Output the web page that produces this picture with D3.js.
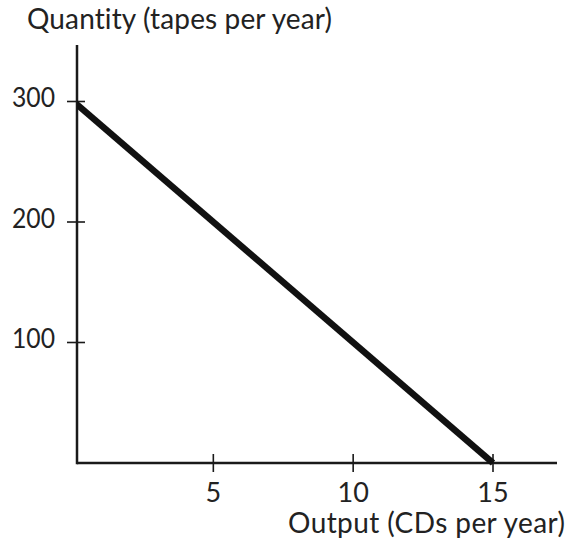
<!DOCTYPE html>
<html><head><meta charset="utf-8">
<script src="https://cdn.jsdelivr.net/npm/d3@7"></script>
<style>body{margin:0;background:#fff}svg{display:block}text{font-family:Lato,"Noto Sans",sans-serif;fill:#222;font-variant-ligatures:none;font-feature-settings:"liga" 0,"clig" 0}</style>
</head><body>
<svg id="c" width="569" height="546"></svg>
<script>
const xTicks = [5, 10, 15];
const yTicks = [100, 200, 300];
const lineX = [0, 15];
const lineY = [300, 0];
const yTitle = "Quantity (tapes per year)";
const xTitle = "Output (CDs per year)";

const svg = d3.select("#c");
const x = d3.scaleLinear().domain([0, 15]).range([73.5, 493]);
const y = d3.scaleLinear().domain([0, 300]).range([463, 101.5]);
const axX = 77, axTop = 45, axRight = 557;

// axes
svg.append("line").attr("x1", axX).attr("x2", axX).attr("y1", axTop).attr("y2", y(0)+1.2)
  .attr("stroke", "#1a1a1a").attr("stroke-width", 2.5);
svg.append("line").attr("x1", axX).attr("x2", axRight).attr("y1", y(0)).attr("y2", y(0))
  .attr("stroke", "#1a1a1a").attr("stroke-width", 2.5);

// y ticks
svg.selectAll(".yt").data(yTicks).enter().append("line")
  .attr("x1", axX-10).attr("x2", axX+8).attr("y1", d=>y(d)).attr("y2", d=>y(d))
  .attr("stroke", "#1a1a1a").attr("stroke-width", 1.6);
svg.selectAll(".yl").data(yTicks).enter().append("text")
  .attr("x", 55).attr("y", d=>y(d)+5.5).attr("text-anchor", "end")
  .attr("font-size", 27).attr("textLength", 43).attr("lengthAdjust", "spacingAndGlyphs").text(d=>d);

// x ticks
svg.selectAll(".xt").data(xTicks).enter().append("line")
  .attr("x1", d=>x(d)).attr("x2", d=>x(d)).attr("y1", y(0)-9).attr("y2", y(0)+9)
  .attr("stroke", "#1a1a1a").attr("stroke-width", 1.6);
svg.selectAll(".xl").data(xTicks).enter().append("text")
  .attr("x", d=>x(d)).attr("y", 502).attr("text-anchor", "middle")
  .attr("font-size", 27).text(d=>d);

// titles
svg.append("text").attr("x", 27).attr("y", 29).attr("font-size", 28)
  .attr("textLength", 305).attr("lengthAdjust", "spacing").text(yTitle);
svg.append("text").attr("x", 288).attr("y", 533).attr("font-size", 28)
  .attr("textLength", 277).attr("lengthAdjust", "spacing").text(xTitle);

// line
svg.append("clipPath").attr("id", "clip").append("rect")
  .attr("x", axX).attr("y", 0).attr("width", 600).attr("height", 546);
const pts = lineX.map((v,i)=>[v, lineY[i]]);
svg.append("path").attr("clip-path", "url(#clip)")
  .attr("d", d3.line().x(d=>x(d[0])).y(d=>y(d[1]))(pts))
  .attr("fill", "none").attr("stroke", "#111").attr("stroke-width", 6.5).attr("stroke-linecap", "butt");
</script>
</body></html>
